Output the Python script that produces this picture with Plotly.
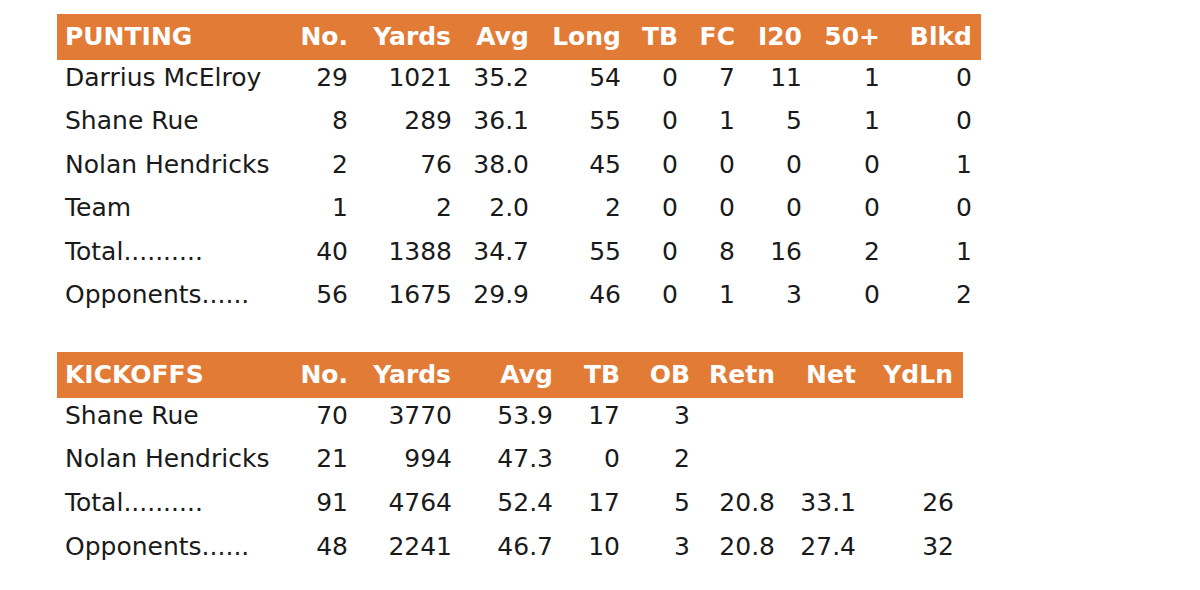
import plotly.graph_objs as go

# punting table
punt_header = ['PUNTING', 'No.', 'Yards', 'Avg', 'Long', 'TB', 'FC', 'I20', '50+', 'Blkd']
punt_names = ['Darrius McElroy', 'Shane Rue', 'Nolan Hendricks', 'Team', 'Total..........', 'Opponents......']
punt_no = [29, 8, 2, 1, 40, 56]
punt_yards = [1021, 289, 76, 2, 1388, 1675]
punt_avg = ['35.2', '36.1', '38.0', '2.0', '34.7', '29.9']
punt_long = [54, 55, 45, 2, 55, 46]
punt_tb = [0, 0, 0, 0, 0, 0]
punt_fc = [7, 1, 0, 0, 8, 1]
punt_i20 = [11, 5, 0, 0, 16, 3]
punt_50 = [1, 1, 0, 0, 2, 0]
punt_blkd = [0, 0, 1, 0, 1, 2]

# kickoffs table
kick_header = ['KICKOFFS', 'No.', 'Yards', 'Avg', 'TB', 'OB', 'Retn', 'Net', 'YdLn']
kick_names = ['Shane Rue', 'Nolan Hendricks', 'Total..........', 'Opponents......']
kick_no = [70, 21, 91, 48]
kick_yards = [3770, 994, 4764, 2241]
kick_avg = ['53.9', '47.3', '52.4', '46.7']
kick_tb = [17, 0, 17, 10]
kick_ob = [3, 2, 5, 3]
kick_retn = ['', '', '20.8', '20.8']
kick_net = ['', '', '33.1', '27.4']
kick_ydln = ['', '', 26, 32]

W, H = 1200, 590
orange = '#E27B36'
font = 'DejaVu Sans, Verdana, sans-serif'


def make_table(header, columns, widths, left, top, row_h):
    right = left + sum(widths)
    bottom = top + 42 + row_h * len(columns[0])
    return go.Table(
        domain=dict(x=[left / W, right / W], y=[1 - bottom / H, 1 - top / H]),
        columnwidth=widths,
        header=dict(
            values=['<b>%s</b>' % h for h in header],
            fill_color=orange,
            line_color=orange,
            align=['left'] + ['right'] * (len(header) - 1),
            font=dict(family=font, size=25, color='white'),
            height=42,
        ),
        cells=dict(
            values=columns,
            fill_color='white',
            line_color='white',
            align=['left'] + ['right'] * (len(header) - 1),
            font=dict(family=font, size=25, color='#1a1a1a'),
            height=row_h,
        ),
    )


punt = make_table(
    punt_header,
    [punt_names, punt_no, punt_yards, punt_avg, punt_long, punt_tb, punt_fc, punt_i20, punt_50, punt_blkd],
    [239, 60, 104, 77, 92, 57, 57, 67, 78, 92],
    49, 6, 43.5,
)
kick = make_table(
    kick_header,
    [kick_names, kick_no, kick_yards, kick_avg, kick_tb, kick_ob, kick_retn, kick_net, kick_ydln],
    [239, 60, 104, 101, 67, 70, 85, 81, 98],
    49, 344, 43.6,
)

fig = go.Figure(data=[punt, kick])
fig.update_layout(
    width=W, height=H,
    margin=dict(l=0, r=0, t=0, b=0),
    paper_bgcolor='white',
)
fig.write_html('out.html')
